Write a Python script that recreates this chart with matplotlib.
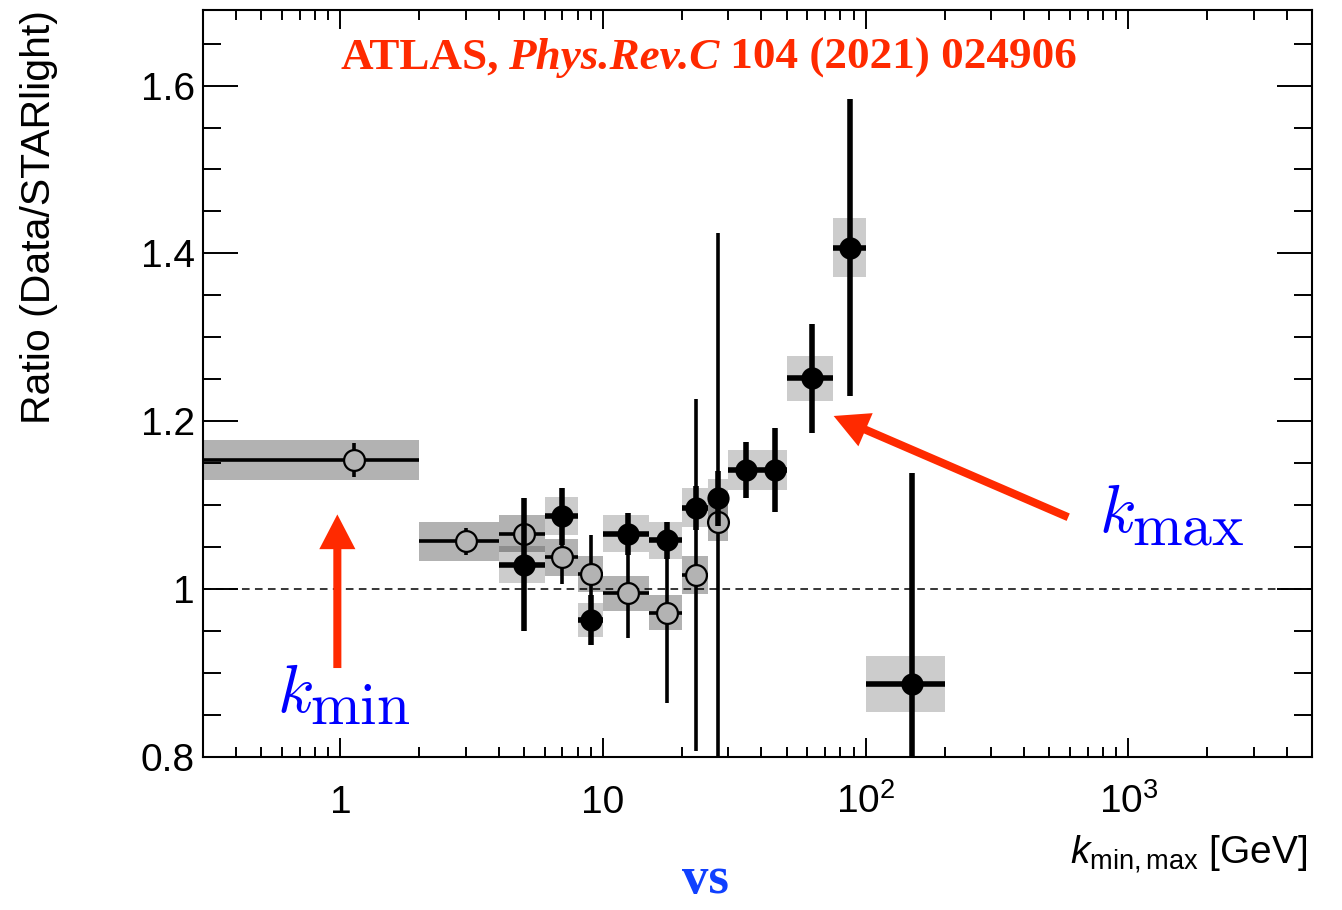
import numpy as np
import matplotlib
matplotlib.use("Agg")
import matplotlib.pyplot as plt
from matplotlib.transforms import offset_copy
from matplotlib.ticker import (FixedLocator, MultipleLocator, FuncFormatter,
                               NullFormatter, LogLocator)

# ---- k_min selection (open markers) ----
kmin_x = [1.13, 3, 5, 7, 9, 12.5, 17.5, 22.5, 27.5]
kmin_lo = [0.3, 2, 4, 6, 8, 10, 15, 20, 25]
kmin_hi = [2, 4, 6, 8, 10, 15, 20, 25, 30]
kmin_ratio = [1.154, 1.057, 1.066, 1.038, 1.018, 0.995, 0.972, 1.017, 1.080]
kmin_stat = [0.020, 0.016, 0.030, 0.032, 0.046, 0.053, 0.108, 0.210, 0.344]
kmin_syst = [0.024, 0.023, 0.022, 0.022, 0.021, 0.021, 0.021, 0.023, 0.023]

# ---- k_max selection (filled markers) ----
kmax_x = [5, 7, 9, 12.5, 17.5, 22.5, 27.5, 35, 45, 62.5, 87.5, 150]
kmax_lo = [4, 6, 8, 10, 15, 20, 25, 30, 40, 50, 75, 100]
kmax_hi = [6, 8, 10, 15, 20, 25, 30, 40, 50, 75, 100, 200]
kmax_ratio = [1.029, 1.087, 0.963, 1.066, 1.058, 1.097, 1.108, 1.142, 1.142,
              1.251, 1.407, 0.887]
kmax_stat = [0.079, 0.034, 0.030, 0.025, 0.022, 0.026, 0.033, 0.033, 0.050,
             0.065, 0.177, 0.251]
kmax_syst = [0.022, 0.023, 0.020, 0.022, 0.022, 0.023, 0.023, 0.024, 0.024,
             0.027, 0.035, 0.033]

x_tick_labels = {1: "1", 10: "10", 100: r"$10^{2}$", 1000: r"$10^{3}$"}

plt.rcParams["font.family"] = ["Liberation Sans", "DejaVu Sans"]
plt.rcParams["mathtext.fontset"] = "custom"
plt.rcParams["mathtext.rm"] = "Liberation Sans"
plt.rcParams["mathtext.it"] = "Liberation Sans:italic"
plt.rcParams["mathtext.bf"] = "Liberation Sans:bold"

RED = "#ff2a00"
BLUE = "#0000ff"
SERIF = "Liberation Serif"

W, H = 1342, 910
fig = plt.figure(figsize=(W / 100, H / 100), dpi=100)
ax = fig.add_axes([203 / W, 153 / H, 1109 / W, 747 / H])
ax.set_xscale("log")


def syst_boxes(x_lo, x_hi, y, s, alpha):
    lo, hi = np.asarray(x_lo, float), np.asarray(x_hi, float)
    y, s = np.asarray(y, float), np.asarray(s, float)
    ax.bar(lo, 2 * s, width=hi - lo, bottom=y - s, align="edge",
           color="black", alpha=alpha, linewidth=0, zorder=1)


def xerr(x, lo, hi):
    x = np.asarray(x, float)
    return [x - np.asarray(lo, float), np.asarray(hi, float) - x]


# systematic uncertainty boxes
syst_boxes(kmin_lo, kmin_hi, kmin_ratio, kmin_syst, 0.30)
syst_boxes(kmax_lo, kmax_hi, kmax_ratio, kmax_syst, 0.20)

# reference line at unity
ax.axhline(1.0, color="black", lw=1.1, ls=(0, (5, 3.5)), zorder=0.5)

# k_min points
ax.errorbar(kmin_x, kmin_ratio, xerr=xerr(kmin_x, kmin_lo, kmin_hi),
            yerr=kmin_stat, fmt="none", ecolor="black", elinewidth=2.6,
            capsize=0, zorder=2)
ax.plot(kmin_x, kmin_ratio, "o", ms=15, mfc="#b3b3b3", mec="black",
        mew=1.6, zorder=3)

# k_max points
ax.errorbar(kmax_x, kmax_ratio, xerr=xerr(kmax_x, kmax_lo, kmax_hi),
            yerr=kmax_stat, fmt="none", ecolor="black", elinewidth=4.0,
            capsize=0, zorder=4)
ax.plot(kmax_x, kmax_ratio, "o", ms=16, mfc="black", mec="black",
        mew=0, zorder=5)

# axes
ax.set_xlim(0.3, 5000)
ax.set_ylim(0.8, 1.69)
ax.xaxis.set_major_locator(FixedLocator(list(x_tick_labels)))
ax.xaxis.set_major_formatter(
    FuncFormatter(lambda v, p: x_tick_labels.get(int(round(v)), "")))
ax.xaxis.set_minor_locator(LogLocator(base=10, subs=np.arange(2, 10),
                                      numticks=30))
ax.xaxis.set_minor_formatter(NullFormatter())
ax.yaxis.set_major_locator(MultipleLocator(0.2))
ax.yaxis.set_minor_locator(MultipleLocator(0.05))
ax.yaxis.set_major_formatter(FuncFormatter(lambda v, p: f"{v:g}"))

ax.tick_params(axis="both", which="both", direction="in", top=True,
               right=True, width=1.4, labelsize=28)
ax.tick_params(axis="x", which="major", length=14, pad=40)
ax.tick_params(axis="x", which="minor", length=7)
ax.tick_params(axis="y", which="major", length=25, pad=6)
ax.tick_params(axis="y", which="minor", length=13)
for lbl in ax.get_xticklabels():
    lbl.set_verticalalignment("baseline")
for sp in ax.spines.values():
    sp.set_linewidth(1.5)

ax.set_ylabel("Ratio (Data/STARlight)", fontsize=29.5, loc="top")
ax.yaxis.set_label_coords(-0.131, 1.0)
ax.set_xlabel(r"$k_{\mathrm{min,max}}$ [GeV]", fontsize=28, loc="right")
ax.xaxis.set_label_coords(0.9955, -0.102)

# annotations
arrow_kw = dict(width=5.8, headwidth=26, headlength=25, facecolor=RED,
                edgecolor="none", shrink=0)
ax.annotate("", xy=(0.974, 1.089), xytext=(0.974, 0.906), arrowprops=arrow_kw)
ax.annotate("", xy=(75.5, 1.2063), xytext=(590, 1.0857), arrowprops=arrow_kw)

# k_min / k_max labels: italic k with a large lowered roman index
sub_shift = offset_copy(ax.transData, fig=fig, x=33 * 0.72, y=-12 * 0.72,
                        units="points")
for (lx, ly), index in [((0.573, 0.854), "min"), ((775, 1.068), "max")]:
    ax.text(lx, ly, r"$k$", color=BLUE, fontsize=48, math_fontfamily="cm",
            va="baseline", ha="left")
    ax.text(lx, ly, r"$\mathrm{%s}$" % index, color=BLUE, fontsize=43,
            math_fontfamily="cm", va="baseline", ha="left",
            transform=sub_shift)

fig.text(705 / W, (H - 893) / H, "vs", family=SERIF, weight="bold", size=38,
         color="#1040ff", ha="center", va="baseline")

# reference line in the header, assembled from roman and italic pieces
fig.canvas.draw()
renderer = fig.canvas.get_renderer()
x_px, y_px = ax.transAxes.transform((0.124, 0.921))
for piece, style, gap in [("ATLAS,", "normal", 9), ("Phys.Rev.C", "italic", 0),
                          (" 104 (2021) 024906", "normal", 0)]:
    t = fig.text(x_px / W, y_px / H, piece, family=SERIF, weight="bold",
                 style=style, size=32.5, color=RED, ha="left", va="baseline")
    x_px += t.get_window_extent(renderer).width + gap

fig.savefig("out.png", dpi=100)
